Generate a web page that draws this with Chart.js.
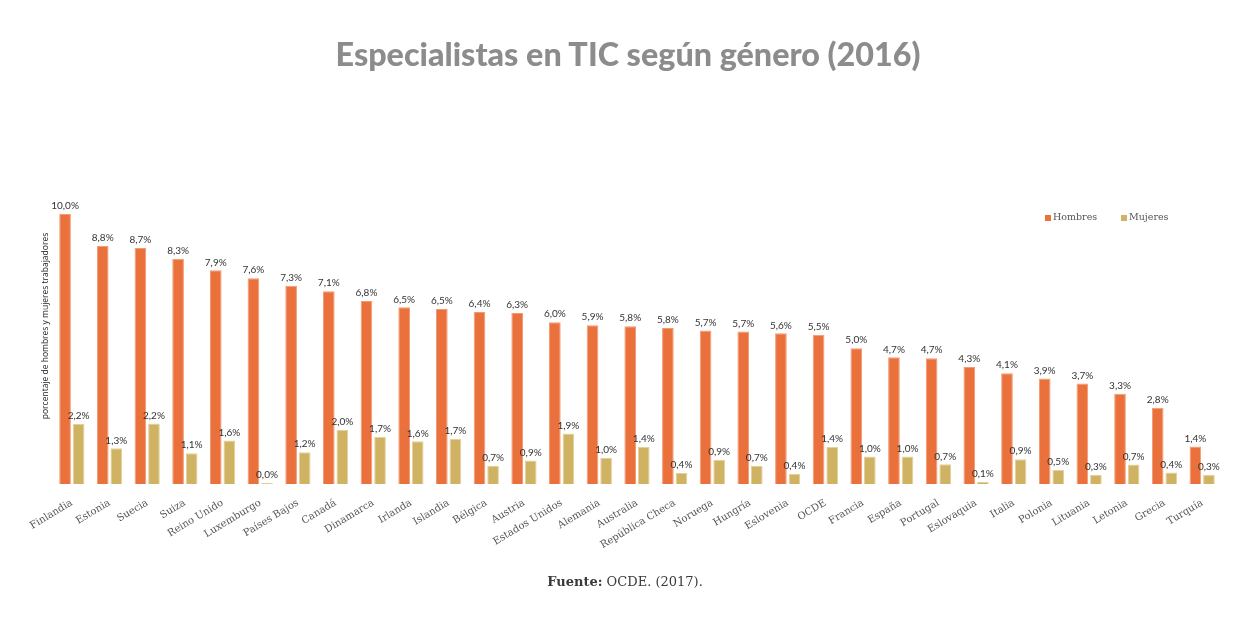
<!DOCTYPE html>
<html>
<head>
<meta charset="utf-8">
<script src="https://cdn.jsdelivr.net/npm/chart.js@4/dist/chart.umd.min.js"></script>
<style>
  body { margin: 0; background: #fff; }
  #wrap { position: relative; width: 1250px; height: 625px; }
  #title {
    position: absolute; top: 34px; left: 3px; width: 1250px; text-align: center;
    font-family: 'Lato', sans-serif; font-weight: 900; font-size: 32.3px; color: #8c8c8c;
  }
  #source {
    position: absolute; top: 574px; left: 0; width: 1250px; text-align: center;
    font-family: 'DejaVu Serif', serif; font-size: 13px; color: #3a3a3a;
  }
  canvas { position: absolute; top: 0; left: 0; }
</style>
</head>
<body>
<div id="wrap">
  <canvas id="ticChart" width="1250" height="625"></canvas>
  <div id="title">Especialistas en TIC según género (2016)</div>
  <div id="source"><b>Fuente:</b> OCDE. (2017).</div>
</div>
<script>
const countries = ['Finlandia', 'Estonia', 'Suecia', 'Suiza', 'Reino Unido', 'Luxemburgo', 'Países Bajos',
    'Canadá', 'Dinamarca', 'Irlanda', 'Islandia', 'Bélgica', 'Austria', 'Estados Unidos', 'Alemania',
    'Australia', 'República Checa', 'Noruega', 'Hungría', 'Eslovenia', 'OCDE', 'Francia', 'España',
    'Portugal', 'Eslovaquia', 'Italia', 'Polonia', 'Lituania', 'Letonia', 'Grecia', 'Turquía'];

const hombres = [10.0, 8.81, 8.74, 8.34, 7.91, 7.62, 7.34, 7.14, 6.78, 6.54, 6.48, 6.37, 6.33, 5.99, 5.88,
    5.84, 5.78, 5.68, 5.65, 5.58, 5.53, 5.03, 4.69, 4.66, 4.33, 4.10, 3.91, 3.72, 3.34, 2.82, 1.39];

const mujeres = [2.22, 1.32, 2.24, 1.14, 1.61, 0.04, 1.18, 2.01, 1.74, 1.58, 1.68, 0.68, 0.87, 1.87, 0.97,
    1.37, 0.41, 0.90, 0.68, 0.38, 1.37, 1.02, 1.02, 0.73, 0.07, 0.92, 0.52, 0.34, 0.72, 0.43, 0.34];

const ORANGE = '#ea703c';
const GOLD = '#cfb262';

const pct = v => v.toFixed(1).replace('.', ',') + '%';

// value labels above each bar
const valueLabels = {
    id: 'valueLabels',
    afterDatasetsDraw(chart) {
        const { ctx } = chart;
        ctx.save();
        ctx.font = "10px 'Lato', sans-serif";
        ctx.fillStyle = '#333';
        ctx.textAlign = 'center';
        ctx.textBaseline = 'bottom';
        chart.data.datasets.forEach((ds, i) => {
            chart.getDatasetMeta(i).data.forEach((bar, j) => {
                ctx.fillText(pct(ds.data[j]), bar.x, bar.y - 3);
            });
        });
        ctx.restore();
    }
};

// small legend inside the plot, top right
const cornerLegend = {
    id: 'cornerLegend',
    afterDraw(chart) {
        const { ctx } = chart;
        const xs = [1045, 1121];
        const y = 218;
        ctx.save();
        ctx.font = "9.5px 'DejaVu Serif', serif";
        ctx.textBaseline = 'middle';
        chart.data.datasets.forEach((ds, i) => {
            ctx.fillStyle = ds.backgroundColor;
            ctx.fillRect(xs[i], y - 3, 6, 6);
            ctx.fillStyle = '#555';
            ctx.fillText(ds.label, xs[i] + 8, y);
        });
        ctx.restore();
    }
};

new Chart(document.getElementById('ticChart'), {
    type: 'bar',
    data: {
        labels: countries,
        datasets: [
            { label: 'Hombres', data: hombres, backgroundColor: ORANGE, borderColor: '#f29a72', borderWidth: 1 },
            { label: 'Mujeres', data: mujeres, backgroundColor: GOLD, borderColor: '#e3d19c', borderWidth: 1 }
        ]
    },
    options: {
        responsive: false,
        animation: false,
        devicePixelRatio: 1,
        categoryPercentage: 0.72,
        barPercentage: 0.86,
        layout: { padding: { top: 168, right: 29, left: 0, bottom: 0 } },
        plugins: {
            legend: { display: false },
            tooltip: { enabled: false }
        },
        scales: {
            x: {
                grid: { display: false },
                border: { display: false },
                ticks: {
                    autoSkip: false,
                    minRotation: 31,
                    maxRotation: 31,
                    padding: 5,
                    color: '#555',
                    font: { family: "'DejaVu Serif', serif", size: 10 }
                },
                afterFit: s => { s.height = 141; }
            },
            y: {
                min: 0,
                max: 11.7,
                grid: { display: false },
                border: { display: false },
                ticks: { display: false },
                title: {
                    display: true,
                    text: 'porcentaje de hombres y mujeres trabajadores',
                    color: '#222',
                    font: { family: "'Open Sans', sans-serif", size: 8.5 },
                    padding: { top: 40, bottom: 0 }
                },
                afterFit: s => { s.width = 53; }
            }
        }
    },
    plugins: [valueLabels, cornerLegend]
});
</script>
</body>
</html>
